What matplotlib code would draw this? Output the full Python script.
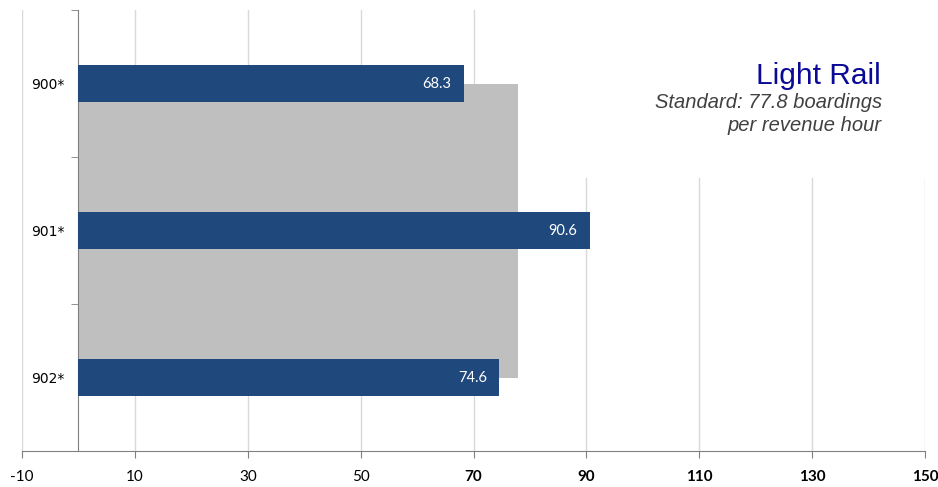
import matplotlib
matplotlib.use("Agg")
import matplotlib.pyplot as plt
from matplotlib.patches import Rectangle

plt.rcParams["axes.unicode_minus"] = False

# data
routes = ["900*", "901*", "902*"]
boardings = [68.3, 90.6, 74.6]
standard = 77.8
x_ticks = [-10, 10, 30, 50, 70, 90, 110, 130, 150]
bold_from = 70

blue = "#1F497D"
gray = "#BFBFBF"

fig = plt.figure(figsize=(9.38, 4.87), dpi=100)
ax = fig.add_axes([22 / 938, 1 - 451 / 487, 903 / 938, 441 / 487])

ypos = list(range(len(routes)))

# standard as one big gray block behind the bars
ax.barh(1, standard, height=2.0, color=gray, zorder=2)
ax.barh(ypos, boardings, height=0.25, color=blue, zorder=3)

for y, v in zip(ypos, boardings):
    ax.annotate(f"{v:.1f}", (v, y), xytext=(-9, 0), textcoords="offset points",
                ha="right", va="center", color="white", fontsize=10.5,
                family="Lato", zorder=4)

ax.set_xlim(-10, 150)
ax.set_ylim(2.5, -0.5)
ax.set_xticks(x_ticks)
ax.set_yticks(ypos)
ax.set_yticks([-0.5, 0.5, 1.5, 2.5], minor=True)
ax.set_yticklabels(routes, family="Lato", fontsize=9)

ax.grid(axis="x", color="#D9D9D9", linewidth=1)
ax.set_axisbelow(True)

# white box behind the annotation hides the gridlines
ax.add_patch(Rectangle((80, -0.6), 75, 1.24, facecolor="white", edgecolor="none",
                       zorder=1, clip_on=False))

for s in ["top", "right"]:
    ax.spines[s].set_visible(False)
ax.spines["left"].set_position(("data", 0))
ax.spines["left"].set_color("#808080")
ax.spines["bottom"].set_color("#808080")

ax.tick_params(axis="y", which="major", length=0, pad=10)
ax.tick_params(axis="y", which="minor", length=5, color="#808080", direction="out")
ax.tick_params(axis="x", length=5, color="#808080", pad=9)

for lbl, t in zip(ax.get_xticklabels(), x_ticks):
    lbl.set_family("Lato")
    lbl.set_fontsize(11)
    if t >= bold_from:
        lbl.set_fontweight("bold")

fig.text(881 / 938, 1 - 84 / 487, "Light Rail", ha="right", va="baseline",
         color="#0A0A96", fontsize=21.5, family="Liberation Sans")
fig.text(882 / 938, 1 - 108 / 487, "Standard: 77.8 boardings", ha="right",
         va="baseline", color="#404040", fontsize=14.5, style="italic",
         family="Liberation Sans")
fig.text(882 / 938, 1 - 131 / 487, "per revenue hour", ha="right",
         va="baseline", color="#404040", fontsize=14.5, style="italic",
         family="Liberation Sans")

fig.savefig("out.png", dpi=100)
